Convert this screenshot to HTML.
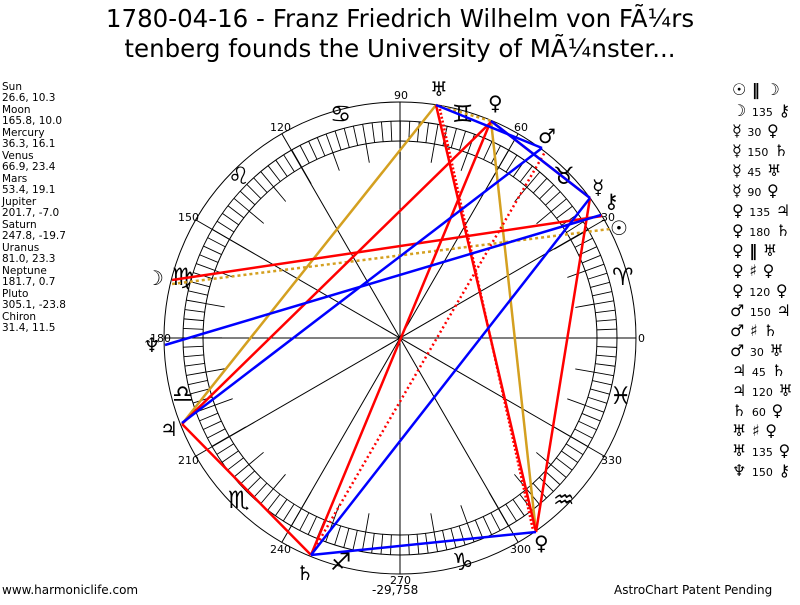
<!DOCTYPE html>
<html><head><meta charset="utf-8"><style>
body{margin:0;background:#fff;width:800px;height:600px;overflow:hidden;font-family:"Liberation Sans","DejaVu Sans",sans-serif}
</style></head><body>
<svg width="800" height="600" xmlns="http://www.w3.org/2000/svg" font-family="'DejaVu Sans','Liberation Sans',sans-serif">
<text x="400" y="27" font-size="24.5" text-anchor="middle">1780-04-16 - Franz Friedrich Wilhelm von FÃ¼rs</text>
<text x="400" y="57" font-size="24.5" text-anchor="middle">tenberg founds the University of MÃ¼nster...</text>
<g font-size="10.5" fill="#000">
<text x="2" y="90">Sun</text><text x="2" y="101">26.6, 10.3</text>
<text x="2" y="113">Moon</text><text x="2" y="124">165.8, 10.0</text>
<text x="2" y="136">Mercury</text><text x="2" y="147">36.3, 16.1</text>
<text x="2" y="159">Venus</text><text x="2" y="170">66.9, 23.4</text>
<text x="2" y="182">Mars</text><text x="2" y="193">53.4, 19.1</text>
<text x="2" y="205">Jupiter</text><text x="2" y="216">201.7, -7.0</text>
<text x="2" y="228">Saturn</text><text x="2" y="239">247.8, -19.7</text>
<text x="2" y="251">Uranus</text><text x="2" y="262">81.0, 23.3</text>
<text x="2" y="274">Neptune</text><text x="2" y="285">181.7, 0.7</text>
<text x="2" y="297">Pluto</text><text x="2" y="308">305.1, -23.8</text>
<text x="2" y="320">Chiron</text><text x="2" y="331">31.4, 11.5</text>
</g>
<g font-size="16" font-weight="bold">
<text x="732" y="95">☉ ‖  ☽</text>
<text x="732" y="116">☽ <tspan font-size="11" font-weight="normal">135</tspan> ⚷</text>
<text x="732" y="136">☿ <tspan font-size="11" font-weight="normal">30</tspan> ♀</text>
<text x="732" y="156">☿ <tspan font-size="11" font-weight="normal">150</tspan> ♄</text>
<text x="732" y="176">☿ <tspan font-size="11" font-weight="normal">45</tspan> ♅</text>
<text x="732" y="196">☿ <tspan font-size="11" font-weight="normal">90</tspan> ♀</text>
<text x="732" y="216">♀ <tspan font-size="11" font-weight="normal">135</tspan> ♃</text>
<text x="732" y="236">♀ <tspan font-size="11" font-weight="normal">180</tspan> ♄</text>
<text x="732" y="256">♀ ‖  ♅</text>
<text x="732" y="276">♀ ♯  ♀</text>
<text x="732" y="296">♀ <tspan font-size="11" font-weight="normal">120</tspan> ♀</text>
<text x="730" y="316">♂ <tspan font-size="11" font-weight="normal">150</tspan> ♃</text>
<text x="730" y="336">♂ ♯  ♄</text>
<text x="730" y="356">♂ <tspan font-size="11" font-weight="normal">30</tspan> ♅</text>
<text x="732" y="376">♃ <tspan font-size="11" font-weight="normal">45</tspan> ♄</text>
<text x="732" y="396">♃ <tspan font-size="11" font-weight="normal">120</tspan> ♅</text>
<text x="732" y="416">♄ <tspan font-size="11" font-weight="normal">60</tspan> ♀</text>
<text x="732" y="436">♅ ♯  ♀</text>
<text x="732" y="456">♅ <tspan font-size="11" font-weight="normal">135</tspan> ♀</text>
<text x="732" y="476">♆ <tspan font-size="11" font-weight="normal">150</tspan> ⚷</text>
</g>
<g stroke="#000" fill="none" stroke-width="1">
<circle cx="400" cy="338" r="236"/>
<circle cx="400" cy="338" r="217"/>
<circle cx="400" cy="338" r="197"/>
<circle cx="400" cy="338" r="207" stroke-width="20" stroke-dasharray="0.9 8.132" stroke-dashoffset="0.45"/>
<circle cx="400" cy="338" r="187.5" stroke-width="19" stroke-dasharray="0.9 31.82" stroke-dashoffset="0.45"/>
<line x1="164" y1="338" x2="636" y2="338"/>
<line x1="400" y1="102" x2="400" y2="574"/>
<line x1="196" y1="220" x2="604" y2="456"/>
<line x1="196" y1="456" x2="604" y2="220"/>
<line x1="282" y1="134" x2="518" y2="542"/>
<line x1="282" y1="542" x2="518" y2="134"/>
</g>
<g font-size="11" fill="#000">
<text x="394" y="99">90</text><text x="270" y="131">120</text><text x="178" y="221">150</text>
<text x="150" y="342">180</text><text x="178" y="464">210</text><text x="270" y="553">240</text>
<text x="390" y="584">270</text><text x="510" y="553">300</text><text x="601" y="464">330</text>
<text x="638" y="342">0</text><text x="601" y="221">30</text><text x="514" y="131">60</text>
<text x="372" y="594" font-size="12">-29,758</text>
<text x="2" y="594" font-size="12">www.harmoniclife.com</text>
<text x="614" y="594" font-size="12">AstroChart Patent Pending</text>
</g>
<g font-size="24" fill="#000">
<text x="330" y="122">♋</text><text x="228" y="184">♌</text><text x="172" y="285">♍</text>
<text x="172" y="402">♎</text><text x="228" y="508">♏</text><text x="330" y="570">♐</text>
<text x="452" y="570">♑</text><text x="553" y="508">♒</text><text x="610" y="404">♓</text>
<text x="612" y="285">♈</text><text x="553" y="184">♉</text><text x="452" y="122">♊</text>
</g>
<g font-size="20" fill="#000">
<text x="430" y="96">♅</text><text x="488" y="110">♀</text><text x="538" y="143">♂</text>
<text x="592" y="194">☿</text><text x="604" y="208">⚷</text><text x="610" y="235">☉</text>
<text x="146" y="285">☽</text><text x="143" y="352">♆</text><text x="160" y="436">♃</text>
<text x="296" y="580">♄</text><text x="534" y="550">♀</text>
</g>
<g fill="none" stroke-width="2.5">
<line x1="436" y1="105" x2="182" y2="424" stroke="#d4a020"/>
<line x1="491" y1="121" x2="536" y2="532" stroke="#d4a020"/>
<line x1="436" y1="105" x2="491" y2="121" stroke="#d4a020" stroke-dasharray="3,3"/>
<line x1="172" y1="284" x2="610" y2="229" stroke="#d4a020" stroke-dasharray="3,3"/>
<line x1="172" y1="280" x2="602" y2="216" stroke="#f00"/>
<line x1="182" y1="424" x2="491" y2="122" stroke="#f00"/>
<line x1="182" y1="424" x2="311" y2="555" stroke="#f00"/>
<line x1="311" y1="555" x2="490" y2="123" stroke="#f00"/>
<line x1="436" y1="105" x2="536" y2="532" stroke="#f00"/>
<line x1="439" y1="105" x2="533" y2="530" stroke="#f00" stroke-dasharray="2,2"/>
<line x1="491" y1="121" x2="590" y2="198" stroke="#f00"/>
<line x1="590" y1="198" x2="536" y2="532" stroke="#f00"/>
<line x1="312" y1="553" x2="545" y2="152" stroke="#f00" stroke-dasharray="2,3"/>
<line x1="165" y1="345" x2="601" y2="215" stroke="#00f"/>
<line x1="182" y1="423" x2="542" y2="148" stroke="#00f"/>
<line x1="311" y1="555" x2="590" y2="198" stroke="#00f"/>
<line x1="311" y1="555" x2="536" y2="532" stroke="#00f"/>
<line x1="436" y1="105" x2="542" y2="148" stroke="#00f"/>
<line x1="491" y1="121" x2="590" y2="198" stroke="#00f"/>
</g>
</svg>
</body></html>
